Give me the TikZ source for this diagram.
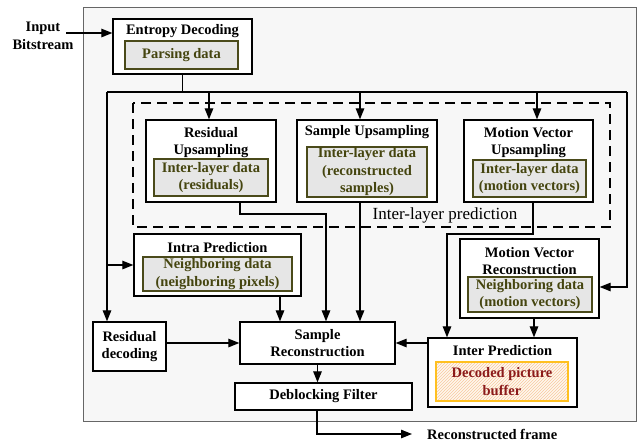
\documentclass[tikz,border=0pt]{standalone}
\usepackage{fontspec}
\setmainfont{Liberation Serif}
\usetikzlibrary{arrows.meta,patterns}
\definecolor{bggray}{HTML}{F7F7F7}
\definecolor{frame}{HTML}{666666}
\definecolor{olivebd}{HTML}{4A4A1A}
\definecolor{olivetx}{HTML}{45450F}
\definecolor{innerfill}{HTML}{E6E6E6}
\definecolor{dpbbd}{HTML}{FFC020}
\definecolor{dpbtx}{HTML}{8B1A1A}
\definecolor{dpbfill}{HTML}{FFF7EE}
\definecolor{dpbhatch}{HTML}{F7C9A0}
\begin{document}
\begin{tikzpicture}[x=1pt,y=-1pt,
  every node/.style={font=\fontsize{14.5}{17.5}\selectfont\bfseries, align=center, inner sep=0pt},
  box/.style={draw, line width=1.3pt, fill=white},
  inbox/.style={draw=olivebd, line width=1.2pt, fill=innerfill, text=olivetx},
  dpb/.style={draw=dpbbd, line width=1.2pt, pattern=north east lines, pattern color=dpbhatch, preaction={fill=dpbfill}, text=dpbtx},
  arr/.style={line width=1.2pt, -{Triangle[length=11pt,width=8.5pt]}},
  ln/.style={line width=1.2pt}]
\useasboundingbox (0,0) rectangle (643,445);
% outer frame
\draw[draw=frame, fill=bggray, line width=1pt] (83,7) rectangle (636,421);
% dashed inter-layer region
\draw[line width=2pt, dash pattern=on 10pt off 6pt] (133,103) rectangle (610,227);
\node[font=\fontsize{17}{20}\selectfont] (ilp) at (445,215) {Inter-layer prediction};

% input
\node (in) at (43,36) {Input\\Bitstream};
\coordinate (inS) at (66,33);

% Entropy decoding
\node[box, minimum width=139pt, minimum height=55pt] (ed) at (182.5,46.5) {};
\node (edT) at (182.5,31) {Entropy Decoding};
\node[inbox, minimum width=113pt, minimum height=28pt] (pd) at (181.5,55) {Parsing data};

% Residual upsampling
\node[box, minimum width=130pt, minimum height=82pt] (ru) at (211,161) {};
\node (ruT) at (211,142.5) {Residual\\Upsampling};
\node[inbox, minimum width=114pt, minimum height=37pt] (rui) at (211,177.5) {Inter-layer data\\(residuals)};

% Sample upsampling
\node[box, minimum width=140pt, minimum height=82pt] (su) at (367,161) {};
\node (suT) at (367,132.5) {Sample Upsampling};
\node[inbox, minimum width=120pt, minimum height=50pt] (sui) at (367,172) {Inter-layer data\\(reconstructed\\samples)};

% MV upsampling
\node[box, minimum width=129pt, minimum height=82pt] (mvu) at (528.5,161) {};
\node (mvuT) at (528.5,142.5) {Motion Vector\\Upsampling};
\node[inbox, minimum width=113pt, minimum height=37pt] (mvui) at (529.5,178.5) {Inter-layer data\\(motion vectors)};

% Intra prediction
\node[box, minimum width=167pt, minimum height=62pt] (ip) at (217.5,265) {};
\node (ipT) at (217.5,248) {Intra Prediction};
\node[inbox, minimum width=149pt, minimum height=34pt] (ipi) at (217.5,274) {Neighboring data\\(neighboring pixels)};

% MV reconstruction
\node[box, minimum width=139pt, minimum height=79pt] (mvr) at (529.5,278.5) {};
\node (mvrT) at (529.5,261) {Motion Vector\\Reconstruction};
\node[inbox, minimum width=124pt, minimum height=35pt] (mvri) at (530,294.5) {Neighboring data\\(motion vectors)};

% Residual decoding
\node[box, minimum width=73pt, minimum height=49pt] (rd) at (129.5,346.5) {Residual\\decoding};

% Sample reconstruction
\node[box, minimum width=155pt, minimum height=42pt] (sr) at (317.5,343) {Sample\\Reconstruction};

% Inter prediction
\node[box, minimum width=149pt, minimum height=69pt] (inter) at (502.5,372.5) {};
\node (interT) at (502.5,351) {Inter Prediction};
\node[dpb, minimum width=132pt, minimum height=39pt] (dpbn) at (502,381.5) {Decoded picture\\buffer};

% Deblocking
\node[box, minimum width=177pt, minimum height=27pt] (df) at (323.5,396.5) {Deblocking Filter};

% output
\coordinate (out) at (412,434);
\node[anchor=west] (outT) at (427,434) {Reconstructed frame};

% bus
\coordinate (busL) at (107,92);
\coordinate (busR) at (627,92);

% connectors
\draw[arr] (inS) -- (inS -| ed.west);
\draw[ln] (ed.south) -- (ed.south |- busL);
\draw[ln] (busL) -- (busR);
\draw[arr] (busL) -- (busL |- rd.north);
\draw[arr] (ip.west -| busL) -- (ip.west);
\draw[arr] (209,92) -- (209,92 |- ru.north);
\draw[arr] (360,92) -- (360,92 |- su.north);
\draw[arr] (537,92) -- (537,92 |- mvu.north);
\draw[arr] (busR) -- (627,287) -- (627,287 -| mvr.east);
\draw[arr] (240,202) -- (240,214) -- (326,214) -- (326,214 |- sr.north);
\draw[arr] (360,202) -- (360,202 |- sr.north);
\draw[arr] (280,296) -- (280,296 |- sr.north);
\draw[arr] (533,202) -- (533,234) -- (447,234) -- (447,234 |- inter.north);
\draw[arr] (534,318) -- (534,318 |- inter.north);
\draw[arr] (inter.west |- 0,343) -- (sr.east |- 0,343);
\draw[arr] (sr.west -| rd.east) -- (sr.west);
\draw[arr] (sr.south) -- (sr.south |- df.north);
\draw[arr] (317,410) -- (317,434) -- (out);
\end{tikzpicture}
\end{document}
